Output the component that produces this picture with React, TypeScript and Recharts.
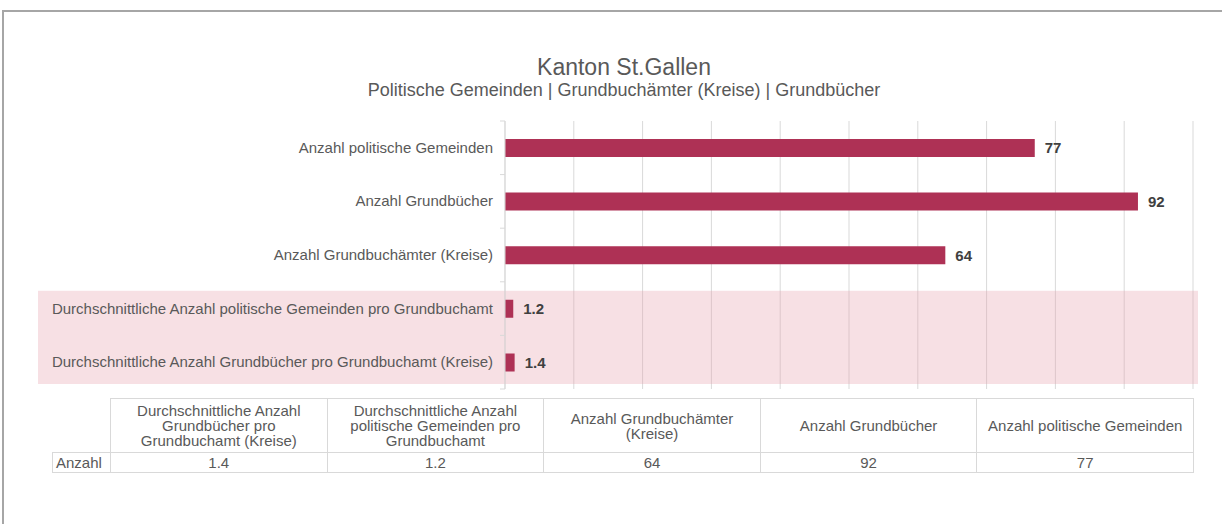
import { Bar, BarChart, CartesianGrid, LabelList, ReferenceArea, XAxis, YAxis } from "recharts";

// chart order, top to bottom
const categories = [
  "Anzahl politische Gemeinden",
  "Anzahl Grundbücher",
  "Anzahl Grundbuchämter (Kreise)",
  "Durchschnittliche Anzahl politische Gemeinden pro Grundbuchamt",
  "Durchschnittliche Anzahl Grundbücher pro Grundbuchamt (Kreise)",
];
const values = [77, 92, 64, 1.2, 1.4];
const xTicks = [0, 10, 20, 30, 40, 50, 60, 70, 80, 90, 100];
const highlighted = [categories[3], categories[4]];

// data table under the chart lists the categories bottom-up, with its own line breaks
const tableHeaders = [
  ["Durchschnittliche Anzahl", "Grundbücher pro", "Grundbuchamt (Kreise)"],
  ["Durchschnittliche Anzahl", "politische Gemeinden pro", "Grundbuchamt"],
  ["Anzahl Grundbuchämter", "(Kreise)"],
  ["Anzahl Grundbücher"],
  ["Anzahl politische Gemeinden"],
];
const tableValues = [...values].reverse();
const rowLabel = "Anzahl";

const W = 1222;
const H = 524;
const PLOT_TOP = 121;
const PLOT_BOTTOM = 389;
const HALF_BAND = (PLOT_BOTTOM - PLOT_TOP) / categories.length / 2;
const FONT = "'Liberation Sans', Arial, sans-serif";
const TEXT = "#595959";

const data = categories.map((c, i) => ({ name: c, value: values[i] }));

function CategoryTick(props: any) {
  const { x, y, payload, index } = props;
  const last = index === categories.length - 1;
  return (
    <g>
      <line x1={x + 3} x2={x + 8} y1={y - HALF_BAND} y2={y - HALF_BAND} stroke="#d9d9d9" />
      {last && <line x1={x + 3} x2={x + 8} y1={y + HALF_BAND} y2={y + HALF_BAND} stroke="#d9d9d9" />}
      <text x={x - 4} y={y} dy={5} textAnchor="end" fontSize={15} fill={TEXT} fontFamily={FONT}>
        {payload.value}
      </text>
    </g>
  );
}

function Band(props: any) {
  const { x, y, width, height } = props;
  return <rect x={x - 467} y={y + 9} width={width + 472} height={height - 14} fill="#e8a0ad" fillOpacity={0.33} />;
}

const cell: React.CSSProperties = {
  border: "1px solid #d9d9d9",
  textAlign: "center",
  padding: 0,
  color: TEXT,
};

export default function App() {
  return (
    <div style={{ position: "relative", width: W, height: H, overflow: "hidden", background: "#fff", fontFamily: FONT }}>
      <style>{"body{margin:0}"}</style>
      <div
        style={{
          position: "absolute",
          left: 2,
          top: 10,
          width: W + 20,
          height: H + 20,
          border: "2px solid #a6a6a6",
        }}
      />
      <div style={{ position: "absolute", top: 54, width: 1248, textAlign: "center", color: TEXT }}>
        <div style={{ fontSize: 23, lineHeight: "26px" }}>Kanton St.Gallen</div>
        <div style={{ fontSize: 18, lineHeight: "20px" }}>Politische Gemeinden | Grundbuchämter (Kreise) | Grundbücher</div>
      </div>
      <div style={{ position: "absolute", left: 0, top: 0 }}>
        <BarChart
          width={W}
          height={H}
          data={data}
          layout="vertical"
          margin={{ top: PLOT_TOP, bottom: H - PLOT_BOTTOM, left: 45, right: 29 }}
          barSize={18}
        >
          <ReferenceArea y1={highlighted[0]} y2={highlighted[1]} shape={<Band />} ifOverflow="visible" />
          <CartesianGrid horizontal={false} stroke="#d9d9d9" />
          <XAxis
            type="number"
            domain={[0, 100]}
            ticks={xTicks}
            interval={0}
            tick={() => <g />}
            tickLine={false}
            axisLine={false}
            height={0}
          />
          <YAxis
            type="category"
            dataKey="name"
            width={460}
            tickLine={false}
            axisLine={{ stroke: "#d9d9d9" }}
            tick={<CategoryTick />}
            interval={0}
          />
          <Bar dataKey="value" fill="#ae3155" isAnimationActive={false}>
            <LabelList
              dataKey="value"
              position="right"
              offset={10}
              fill="#404040"
              fontSize={15}
              fontWeight="bold"
              fontFamily={FONT}
            />
          </Bar>
        </BarChart>
      </div>
      <table
        style={{
          position: "absolute",
          left: 52,
          top: 398,
          width: 1142,
          borderCollapse: "collapse",
          tableLayout: "fixed",
          fontSize: 15,
          lineHeight: "15px",
        }}
      >
        <colgroup>
          <col style={{ width: 58 }} />
          {tableHeaders.map((_, i) => (
            <col key={i} />
          ))}
        </colgroup>
        <tbody>
          <tr style={{ height: 54 }}>
            <td style={{ padding: 0 }} />
            {tableHeaders.map((lines, i) => (
              <td key={i} style={cell}>
                {lines.map((l, j) => (
                  <div key={j}>{l}</div>
                ))}
              </td>
            ))}
          </tr>
          <tr style={{ height: 20 }}>
            <td style={{ ...cell, textAlign: "left", paddingLeft: 3 }}>{rowLabel}</td>
            {tableValues.map((v, i) => (
              <td key={i} style={cell}>
                {v}
              </td>
            ))}
          </tr>
        </tbody>
      </table>
    </div>
  );
}
